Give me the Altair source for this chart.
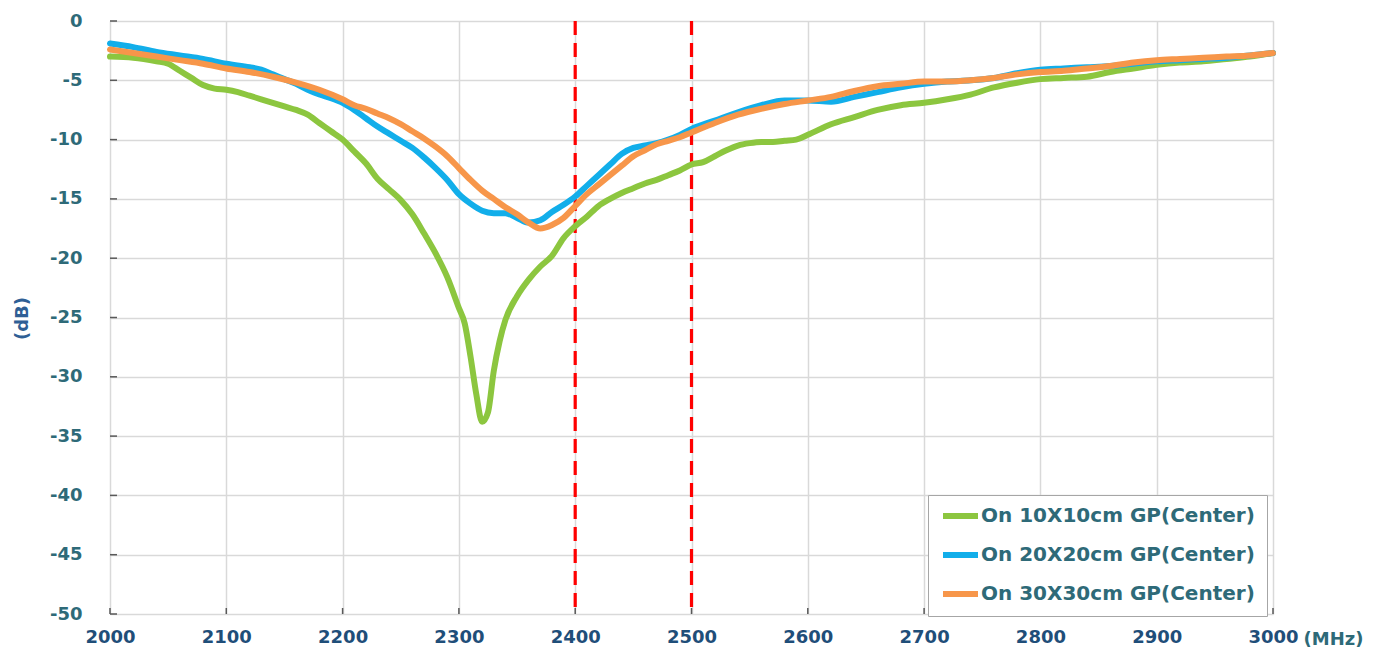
import altair as alt
import pandas as pd

# ---- data ----
series_names = ["On 10X10cm GP(Center)", "On 20X20cm GP(Center)", "On 30X30cm GP(Center)"]
series_colors = ["#8cc63f", "#12aeea", "#f7964a"]

f_10 = [2000, 2020, 2040, 2050, 2060, 2070, 2080, 2090, 2100, 2110, 2120, 2130, 2140, 2150,
        2160, 2170, 2180, 2190, 2200, 2210, 2220, 2230, 2240, 2250, 2260, 2270, 2280, 2290,
        2300, 2305, 2310, 2315, 2320, 2325, 2330, 2335, 2340, 2350, 2360, 2370, 2380, 2390,
        2400, 2410, 2420, 2430, 2440, 2450, 2460, 2470, 2480, 2490, 2500, 2510, 2520, 2530,
        2540, 2550, 2560, 2570, 2580, 2590, 2600, 2620, 2640, 2660, 2680, 2700, 2720, 2740,
        2760, 2780, 2800, 2820, 2840, 2860, 2880, 2900, 2920, 2940, 2960, 2980, 3000]
db_10 = [-3.0, -3.1, -3.4, -3.6, -4.2, -4.8, -5.4, -5.7, -5.8, -6.0, -6.3, -6.6, -6.9, -7.2,
         -7.5, -7.9, -8.6, -9.3, -10.0, -11.0, -12.0, -13.3, -14.2, -15.1, -16.3, -17.9, -19.6, -21.6,
         -24.2, -25.5, -28.3, -31.5, -33.8, -33.0, -29.5, -27.0, -25.2, -23.2, -21.8, -20.7, -19.8, -18.3,
         -17.3, -16.5, -15.6, -15.0, -14.5, -14.1, -13.7, -13.4, -13.0, -12.6, -12.1, -11.9, -11.4, -10.9,
         -10.5, -10.3, -10.2, -10.2, -10.1, -10.0, -9.6, -8.7, -8.1, -7.5, -7.1, -6.9, -6.6, -6.2,
         -5.6, -5.2, -4.9, -4.8, -4.7, -4.3, -4.0, -3.7, -3.5, -3.4, -3.2, -3.0, -2.7]

f_20 = [2000, 2020, 2040, 2060, 2080, 2100, 2120, 2130, 2140, 2150, 2160, 2170, 2180, 2190,
        2200, 2210, 2220, 2230, 2240, 2250, 2260, 2270, 2280, 2290, 2300, 2310, 2320, 2330,
        2340, 2350, 2360, 2370, 2380, 2390, 2400, 2410, 2420, 2430, 2440, 2450, 2460, 2470,
        2480, 2490, 2500, 2520, 2540, 2560, 2580, 2600, 2620, 2640, 2660, 2680, 2700, 2720,
        2740, 2760, 2780, 2800, 2820, 2840, 2860, 2880, 2900, 2920, 2940, 2960, 2980, 3000]
db_20 = [-1.9, -2.2, -2.6, -2.9, -3.2, -3.6, -3.9, -4.1, -4.5, -4.9, -5.3, -5.8, -6.2, -6.5,
         -6.9, -7.5, -8.2, -8.9, -9.5, -10.1, -10.7, -11.5, -12.4, -13.4, -14.6, -15.4, -16.0, -16.2,
         -16.2, -16.6, -17.0, -16.8, -16.1, -15.5, -14.8, -13.9, -13.0, -12.1, -11.2, -10.7, -10.5, -10.3,
         -10.0, -9.6, -9.1, -8.4, -7.7, -7.1, -6.7, -6.7, -6.8, -6.4, -6.0, -5.6, -5.3, -5.1,
         -5.0, -4.8, -4.4, -4.1, -4.0, -3.9, -3.8, -3.6, -3.4, -3.3, -3.2, -3.1, -2.9, -2.7]

f_30 = [2000, 2020, 2040, 2060, 2080, 2100, 2120, 2140, 2160, 2180, 2200, 2210, 2220, 2230,
        2240, 2250, 2260, 2270, 2280, 2290, 2300, 2310, 2320, 2330, 2340, 2350, 2360, 2370,
        2380, 2390, 2400, 2410, 2420, 2430, 2440, 2450, 2460, 2470, 2480, 2490, 2500, 2520,
        2540, 2560, 2580, 2600, 2620, 2640, 2660, 2680, 2700, 2720, 2740, 2760, 2780, 2800,
        2820, 2840, 2860, 2880, 2900, 2920, 2940, 2960, 2980, 3000]
db_30 = [-2.4, -2.7, -3.0, -3.3, -3.6, -4.0, -4.3, -4.7, -5.2, -5.8, -6.6, -7.1, -7.4, -7.8,
         -8.2, -8.7, -9.3, -9.9, -10.6, -11.4, -12.4, -13.4, -14.3, -15.0, -15.7, -16.3, -17.0, -17.5,
         -17.2, -16.6, -15.6, -14.6, -13.8, -13.0, -12.2, -11.4, -10.9, -10.4, -10.1, -9.8, -9.4, -8.6,
         -7.9, -7.4, -7.0, -6.7, -6.4, -5.9, -5.5, -5.3, -5.1, -5.1, -5.0, -4.8, -4.5, -4.3,
         -4.2, -4.0, -3.8, -3.5, -3.3, -3.2, -3.1, -3.0, -2.9, -2.7]

marker_freqs = [2400, 2500]
x_ticks = [2000, 2100, 2200, 2300, 2400, 2500, 2600, 2700, 2800, 2900, 3000]
y_ticks = [0, -5, -10, -15, -20, -25, -30, -35, -40, -45, -50]

# ---- tables ----
rows = []
for name, fs, ds in zip(series_names, [f_10, f_20, f_30], [db_10, db_20, db_30]):
    for i, (f, d) in enumerate(zip(fs, ds)):
        rows.append({"series": name, "freq": f, "db": d, "order": i})
df = pd.DataFrame(rows)
df_mark = pd.DataFrame({"freq": marker_freqs})
df_xt = pd.DataFrame({"freq": x_ticks})
df_yt = pd.DataFrame({"db": y_ticks})

W, H = 1163, 593
FONT = "DejaVu Sans"
TEAL = "#2e6a78"
NAVY = "#1f4e79"

xscale = alt.Scale(domain=[2000, 3000], nice=False, zero=False)
yscale = alt.Scale(domain=[-50, 0], nice=False, zero=False)

xaxis = alt.Axis(values=x_ticks, labelExpr="toString(datum.value)", grid=True,
                 gridColor="#d9d9d9", gridWidth=1.5,
                 ticks=False, domain=False, labelFont=FONT, labelFontSize=18,
                 labelFontWeight="bold", labelColor=NAVY, labelPadding=14,
                 title="(MHz)", titleFont=FONT, titleFontSize=18, titleFontWeight="bold",
                 titleColor=TEAL, titleX=1193, titleY=30, titleAlign="left",
                 titleBaseline="alphabetic", labelFlush=False)
yaxis = alt.Axis(values=y_ticks, labelExpr="toString(datum.value)", grid=True,
                 gridColor="#d9d9d9", gridWidth=1.5,
                 ticks=False, domain=False, labelFont=FONT, labelFontSize=18,
                 labelFontWeight="bold", labelColor=TEAL, labelPadding=28,
                 title="(dB)", titleFont=FONT, titleFontSize=18, titleFontWeight="bold",
                 titleColor="#2f5f95", titleX=-88, titleY=297, titleAngle=-90,
                 titleAlign="center", titleBaseline="middle", labelFlush=False)

base = alt.Chart(df).encode(
    x=alt.X("freq:Q", scale=xscale, axis=xaxis),
    y=alt.Y("db:Q", scale=yscale, axis=yaxis),
)

lines = base.mark_line(strokeWidth=6, interpolate="monotone", strokeCap="round").encode(
    color=alt.Color("series:N",
                    scale=alt.Scale(domain=series_names, range=series_colors),
                    sort=series_names,
                    legend=alt.Legend(title=None, orient="none", legendX=818, legendY=474,
                                      fillColor="white", strokeColor="#a6a6a6",
                                      padding=12, symbolType="stroke", symbolSize=1225,
                                      symbolStrokeWidth=6, labelOffset=0,
                                      labelFont=FONT, labelFontSize=20,
                                      labelFontWeight="bold", labelColor=TEAL,
                                      labelLimit=400, rowPadding=19, clipHeight=18)),
    order=alt.Order("order:Q"),
    detail="series:N",
)

markers = alt.Chart(df_mark).mark_rule(color="#ff0000", strokeWidth=3.2,
                                       strokeDash=[14, 8]).encode(
    x=alt.X("freq:Q", scale=xscale)
)

xticks_l = alt.Chart(df_xt).mark_rule(color="#595959", strokeWidth=1.5).encode(
    x=alt.X("freq:Q", scale=xscale), y=alt.value(H), y2=alt.value(H - 6)
)
yticks_l = alt.Chart(df_yt).mark_rule(color="#595959", strokeWidth=1.5).encode(
    y=alt.Y("db:Q", scale=yscale), x=alt.value(0), x2=alt.value(7)
)

chart = alt.layer(markers, lines, xticks_l, yticks_l).properties(
    width=W, height=H,
    autosize=alt.AutoSizeParams(type="none"),
    padding={"left": 102, "top": 13, "right": 100, "bottom": 40},
).configure_view(stroke="#595959", strokeWidth=1.5).configure(background="white")

chart.save("out.html", embed_options={"renderer": "svg", "actions": False})
